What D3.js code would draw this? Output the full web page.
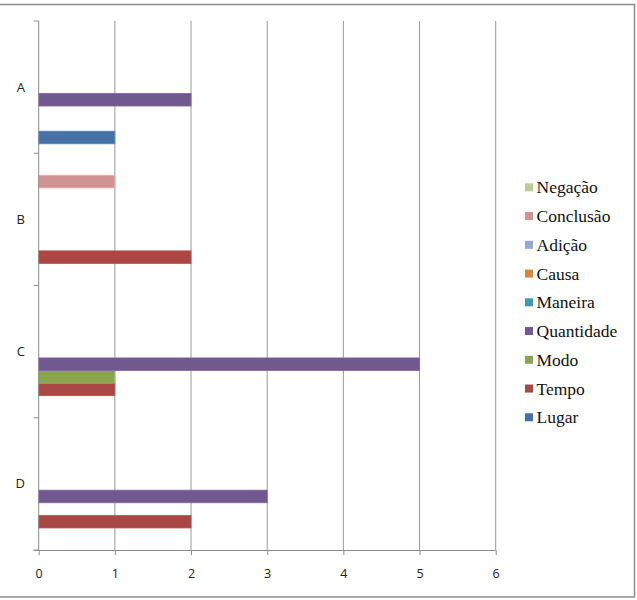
<!DOCTYPE html>
<html><head><meta charset="utf-8">
<script src="https://cdn.jsdelivr.net/npm/d3@7"></script>
<style>body{margin:0;background:#fff}svg{display:block}
.lgt{font-family:"Times New Roman","Liberation Serif","DejaVu Serif",serif;}
</style>
</head><body><svg id="c" width="637" height="600"></svg>
<script>
const categories = ["A","B","C","D"];
const series = ["Lugar","Tempo","Modo","Quantidade","Maneira","Causa","Adição","Conclusão","Negação"];
const colors = ["#4572A7","#AA4643","#89A54E","#71588F","#4198AF","#DB843D","#93A9CF","#D19392","#B9CD96"];
// values[series][category]
const Lugar      = [1,0,0,0];
const Tempo      = [0,2,1,2];
const Modo       = [0,0,1,0];
const Quantidade = [2,0,5,3];
const Maneira    = [0,0,0,0];
const Causa      = [0,0,0,0];
const Adicao     = [0,0,0,0];
const Conclusao  = [0,1,0,0];
const Negacao    = [0,0,0,0];
const values = [Lugar,Tempo,Modo,Quantidade,Maneira,Causa,Adicao,Conclusao,Negacao];
const xTicks = [0,1,2,3,4,5,6];

const svg = d3.select("#c");
const L = 38.7, R = 495.7, T = 21, B = 550;

// outer border
svg.append("rect").attr("x",-2).attr("y",4.5).attr("width",636.5).attr("height",592.5)
  .attr("fill","none").attr("stroke","#8c8c8c").attr("stroke-width",1.5);

const x = d3.scaleLinear().domain([0,6]).range([L,R]);
const y = d3.scaleBand().domain(categories).range([T,B]);
// series inside band: first series at bottom
const inner = d3.scaleBand().domain(d3.range(series.length).reverse())
  .range([0,y.bandwidth()]).paddingOuter(0.75).paddingInner(0);

// gridlines
svg.append("g").selectAll("line").data(xTicks.slice(1)).join("line")
  .attr("x1",d=>x(d)).attr("x2",d=>x(d)).attr("y1",T).attr("y2",B)
  .attr("stroke","#9a9a9a").attr("stroke-width",1);

// bars
const g = svg.append("g");
values.forEach((vals,si)=>{
  g.selectAll(null).data(vals.map((v,ci)=>({v,ci}))).join("rect")
    .filter(d=>d.v>0)
    .attr("x",x(0)).attr("width",d=>x(d.v)-x(0))
    .attr("y",d=>y(categories[d.ci])+inner(si)).attr("height",inner.bandwidth())
    .attr("fill",colors[si])
    .attr("stroke",d3.color(colors[si]).brighter(0.4)).attr("stroke-width",0.8);
});

// x axis
const xa = svg.append("g").attr("transform",`translate(0,${B})`)
  .call(d3.axisBottom(x).tickValues(xTicks).tickSize(5).tickPadding(14).tickFormat(d3.format("d")));
xa.select(".domain").attr("stroke","#8c8c8c").attr("d",`M${L-5},0.5H${R}`);
xa.selectAll(".tick line").attr("stroke","#8c8c8c");
xa.selectAll("text").attr("font-family","'Open Sans', sans-serif").attr("font-size",12.5).attr("fill","#222");

// y axis
const bounds = [T].concat(categories.map(c=>y(c)+y.bandwidth()));
svg.append("line").attr("x1",L).attr("x2",L).attr("y1",T).attr("y2",B).attr("stroke","#8c8c8c");
svg.append("g").selectAll("line").data(bounds).join("line")
  .attr("x1",L-5).attr("x2",L).attr("y1",d=>d).attr("y2",d=>d).attr("stroke","#8c8c8c");
svg.append("g").selectAll("text").data(categories).join("text")
  .attr("x",25).attr("y",d=>y(d)+y.bandwidth()/2).attr("dy","0.35em")
  .attr("text-anchor","end").attr("font-family","'Open Sans', sans-serif").attr("font-size",13).attr("fill","#222")
  .text(d=>d);

// legend (reverse order)
const legendItems = series.map((s,i)=>({s,c:colors[i]})).reverse();
const lg = svg.append("g").selectAll("g").data(legendItems).join("g")
  .attr("transform",(d,i)=>`translate(525,${187.3+i*28.75})`);
lg.append("rect").attr("x",0).attr("y",-4).attr("width",8).attr("height",8).attr("fill",d=>d.c);
lg.append("text").attr("class","lgt").attr("x",11.5).attr("dy","0.35em")
  .attr("font-size",17.5).attr("fill","#111")
  .text(d=>d.s);
</script></body></html>
